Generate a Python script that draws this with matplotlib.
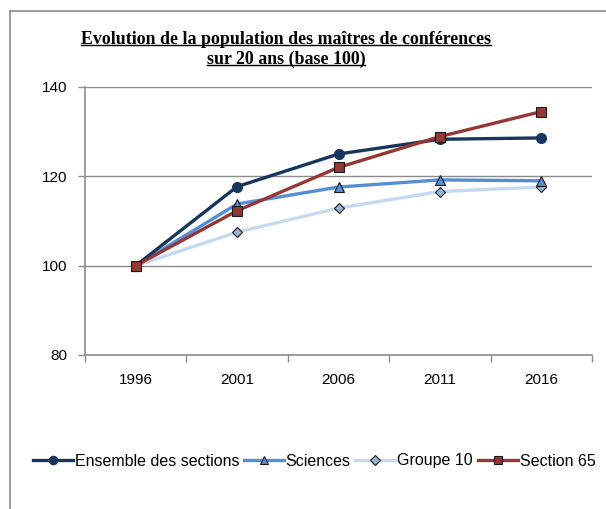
import numpy as np
import matplotlib.pyplot as plt
import matplotlib.lines as mlines

# Data
years = ['1996', '2001', '2006', '2011', '2016']
ensemble = [100, 117.7, 125.0, 128.3, 128.6]
sciences = [100, 113.8, 117.6, 119.2, 119.0]
groupe10 = [100, 107.5, 112.9, 116.6, 117.6]
section65 = [100, 112.3, 122.0, 128.9, 134.5]

fig = plt.figure(figsize=(6.06, 5.09), dpi=100)
ax = fig.add_axes([85/606, 1-355/509, (592-85)/606, (355-87)/509])

x = np.arange(len(years))

# outer frame (left and top lines only)
fig.add_artist(mlines.Line2D([10/606, 10/606], [0, 1-11/509], color='#8c8c8c', lw=1.2))
fig.add_artist(mlines.Line2D([10/606, 1], [1-11/509, 1-11/509], color='#8c8c8c', lw=1.2))

ax.plot(x, ensemble, color='#17365D', lw=2.4, marker='o', ms=7,
        mfc='#17365D', mec='#17365D', label='Ensemble des sections', zorder=4)
ax.plot(x, sciences, color='#558ED5', lw=2.4, marker='^', ms=7,
        mfc='#558ED5', mec='#1a1a1a', mew=0.8, label='Sciences', zorder=3)
ax.plot(x, groupe10, color='#C6D9F1', lw=2.4, marker='D', ms=5.5,
        mfc='#95B3D7', mec='#1a1a1a', mew=0.8, label='Groupe 10', zorder=2)
ax.plot(x, section65, color='#953735', lw=2.4, marker='s', ms=7,
        mfc='#953735', mec='#1a1a1a', mew=0.8, label='Section 65', zorder=5)

ax.set_xlim(-0.5, 4.5)
ax.set_ylim(80, 140)
ax.set_yticks([80, 100, 120, 140])
ax.yaxis.grid(True, color='#8c8c8c', lw=1)
ax.set_axisbelow(True)

# category ticks between labels
ax.set_xticks(np.arange(-0.5, 5, 1))
ax.set_xticklabels([])
ax.set_xticks(x, minor=True)
ax.set_xticklabels(years, minor=True)
ax.tick_params(axis='x', which='minor', length=0, pad=13)
ax.tick_params(axis='x', which='major', length=5, color='#8c8c8c', width=1)
ax.tick_params(axis='y', length=5, color='#8c8c8c', width=1, pad=8)
for lab in ax.get_xticklabels(minor=True) + ax.get_yticklabels():
    lab.set_fontfamily('Liberation Sans')
    lab.set_fontsize(11)

for s in ['top', 'right']:
    ax.spines[s].set_visible(False)
for s in ['left', 'bottom']:
    ax.spines[s].set_color('#8c8c8c')
    ax.spines[s].set_linewidth(1.2)

t1 = fig.text(286/606, 1-39/509, 'Evolution de la population des maîtres de conférences',
              ha='center', va='center', fontfamily='Liberation Serif', fontweight='bold',
              fontsize=12.9, color='black')
t2 = fig.text(286/606, 1-59/509, 'sur 20 ans (base 100)',
              ha='center', va='center', fontfamily='Liberation Serif', fontweight='bold',
              fontsize=12.9, color='black')
# underline the title lines
fig.canvas.draw()
r = fig.canvas.get_renderer()
for t in (t1, t2):
    bb = t.get_window_extent(r)
    yb = (bb.y0 + 3) / fig.bbox.height
    fig.add_artist(mlines.Line2D([bb.x0 / fig.bbox.width, bb.x1 / fig.bbox.width], [yb, yb],
                                 color='black', lw=1.0))

fig.legend(loc='center', bbox_to_anchor=(314/606, 1-461/509), ncol=4, frameon=False,
           prop={'family': 'Liberation Sans', 'size': 11.5}, handlelength=2.5,
           handletextpad=0.12, columnspacing=0.3, markerscale=0.85)

plt.savefig('out.png', dpi=100)
